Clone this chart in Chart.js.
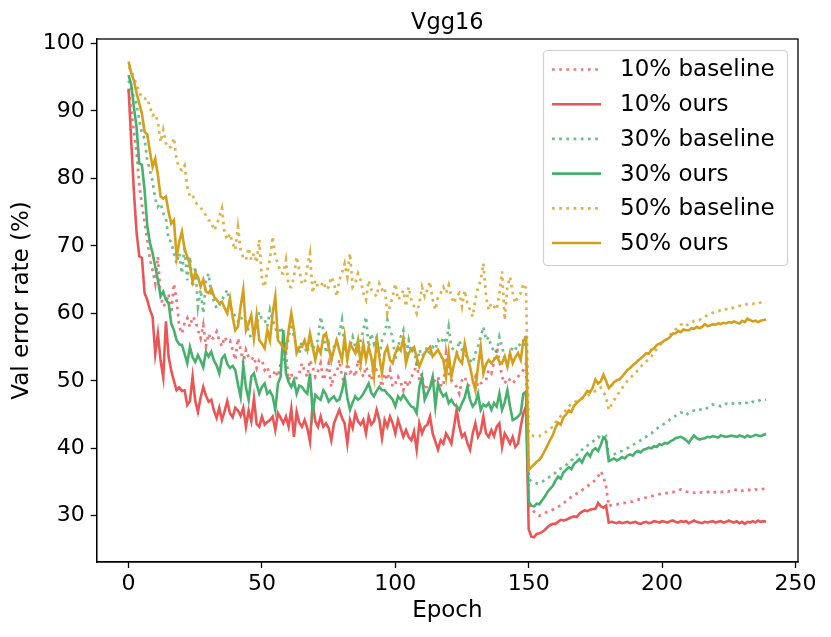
<!DOCTYPE html>
<html>
<head>
<meta charset="utf-8">
<title>Vgg16</title>
<script src="https://cdn.jsdelivr.net/npm/chart.js@4.4.1/dist/chart.umd.min.js"></script>
<style>
  html, body { margin: 0; padding: 0; background: #fff; }
  #caixa { width: 831px; height: 637px; }
</style>
</head>
<body>
<div id="caixa"><canvas id="grafico"></canvas></div>
<script>
// epocas 0..239 (eixo x)
const epocas = Array.from({ length: 240 }, function(_, i) { return i })
const ticksX = [0, 50, 100, 150, 200, 250]
const ticksY = [30, 40, 50, 60, 70, 80, 90, 100]

// valores, 10 por linha
const base10 = [
  93.1, 90.0, 87.0, 84.0, 79.0, 76.0, 73.5, 71.0, 68.0, 66.4,
  64.4, 68.4, 62.5, 61.0, 61.5, 62.9, 60.0, 64.4, 61.9, 58.0,
  57.0, 58.5, 59.3, 58.0, 59.5, 59.0, 57.5, 56.3, 58.3, 55.1,
  57.0, 56.0, 56.5, 57.3, 56.0, 55.1, 56.5, 55.8, 56.0, 54.6,
  53.1, 56.3, 54.6, 52.6, 54.6, 53.5, 53.1, 53.6, 51.9, 53.1,
  53.1, 51.6, 52.1, 50.6, 50.6, 51.6, 50.6, 52.6, 53.0, 54.1,
  50.1, 51.1, 49.6, 50.5, 51.1, 52.6, 51.4, 50.6, 53.1, 52.1,
  50.6, 51.5, 52.6, 50.1, 51.1, 52.6, 49.1, 50.8, 51.1, 53.1,
  50.6, 49.6, 52.6, 51.2, 51.6, 50.6, 53.1, 51.6, 50.6, 52.1,
  51.0, 50.1, 52.6, 51.4, 50.6, 49.1, 51.1, 50.1, 51.6, 49.1,
  49.6, 50.6, 49.8, 48.6, 50.1, 49.1, 50.6, 51.2, 52.6, 50.1,
  51.1, 48.1, 49.5, 49.1, 49.6, 50.1, 50.6, 49.4, 49.1, 54.1,
  51.1, 50.1, 49.6, 49.1, 48.1, 50.1, 50.6, 49.5, 49.1, 49.6,
  50.6, 49.1, 49.6, 49.9, 50.1, 51.6, 51.1, 52.8, 55.0, 53.1,
  50.6, 49.6, 50.4, 50.1, 49.6, 50.1, 50.6, 51.2, 51.6, 52.6,
  31.5, 31.2, 30.6, 30.3, 30.0, 30.2, 30.4, 30.6, 30.7, 30.9,
  31.1, 31.3, 31.6, 31.8, 32.2, 32.5, 32.8, 33.0, 33.3, 33.5,
  33.8, 34.1, 34.4, 34.7, 35.0, 35.3, 35.8, 36.6, 35.8, 34.4,
  31.4, 31.6, 31.7, 31.7, 31.8, 31.8, 31.9, 32.0, 32.1, 32.1,
  32.3, 32.4, 32.5, 32.6, 32.7, 32.8, 32.9, 33.0, 33.1, 33.2,
  33.3, 33.3, 33.4, 33.5, 33.5, 33.6, 33.7, 33.9, 33.8, 33.6,
  33.5, 33.5, 33.4, 33.5, 33.4, 33.5, 33.4, 33.5, 33.6, 33.4,
  33.5, 33.6, 33.5, 33.6, 33.7, 33.6, 33.7, 33.9, 33.8, 33.6,
  33.7, 33.8, 33.9, 33.8, 33.7, 33.9, 33.8, 33.9, 34.0, 33.9
]

const nosso10 = [
  93.3, 85.5, 78.0, 72.0, 68.5, 68.2, 63.0, 62.0, 60.5, 59.5,
  54.0, 57.0, 53.0, 50.5, 58.8, 53.6, 51.5, 50.0, 48.6, 49.0,
  48.5, 48.6, 46.4, 47.0, 50.6, 47.0, 45.4, 47.5, 49.1, 47.8,
  46.9, 47.2, 45.6, 44.5, 46.0, 44.2, 45.5, 47.0, 45.2, 44.6,
  46.0, 45.6, 44.8, 46.0, 43.2, 45.6, 44.0, 47.4, 43.6, 43.2,
  44.7, 43.5, 43.9, 44.2, 44.7, 42.7, 45.2, 44.5, 43.7, 44.7,
  43.2, 45.9, 41.7, 45.4, 43.8, 43.2, 44.2, 43.0, 41.0, 46.7,
  44.0, 43.2, 44.7, 43.2, 43.7, 43.0, 41.2, 43.7, 44.7, 45.7,
  44.5, 43.7, 40.7, 44.2, 43.0, 45.2, 44.0, 43.5, 44.2, 42.2,
  44.7, 43.5, 44.0, 45.7, 44.2, 41.5, 44.2, 43.2, 44.7, 43.7,
  42.2, 44.2, 43.0, 41.7, 42.7, 41.7, 41.2, 42.5, 39.8, 43.7,
  42.2, 43.2, 43.5, 44.7, 42.2, 41.0, 39.8, 41.2, 40.7, 42.2,
  41.5, 40.7, 43.2, 45.7, 43.2, 41.7, 42.2, 40.8, 39.8, 42.2,
  43.7, 41.7, 42.5, 44.7, 42.2, 41.7, 42.7, 41.8, 43.2, 43.7,
  40.2, 42.2, 41.5, 40.7, 41.7, 40.2, 40.7, 43.2, 45.2, 46.2,
  28.0, 26.9, 26.8, 27.3, 27.4, 27.6, 27.9, 28.3, 28.6, 28.8,
  28.8, 29.1, 29.4, 29.3, 29.4, 29.6, 29.8, 29.9, 29.8, 30.3,
  30.6, 30.8, 30.7, 30.9, 31.0, 31.0, 31.9, 31.4, 31.2, 31.5,
  29.0, 29.1, 29.0, 28.9, 29.1, 28.9, 29.0, 29.1, 28.9, 29.0,
  29.1, 28.9, 28.8, 29.0, 29.1, 28.9, 29.0, 29.2, 29.1, 29.0,
  29.2, 29.1, 29.0, 29.2, 29.3, 29.1, 29.0, 29.2, 29.1, 29.2,
  28.9, 29.1, 29.3, 29.1, 29.0, 28.9, 29.1, 29.0, 29.1, 29.2,
  29.0, 29.1, 29.2, 29.0, 29.1, 29.3, 29.1, 29.0, 29.2, 28.9,
  29.1, 28.8, 29.1, 29.0, 29.2, 29.0, 29.3, 29.1, 29.2, 29.1
]

const base30 = [
  94.5, 93.2, 92.0, 91.1, 88.6, 86.7, 85.9, 82.7, 81.2, 79.5,
  76.9, 75.8, 76.3, 74.8, 74.1, 70.9, 70.6, 68.9, 67.4, 68.9,
  65.9, 69.9, 64.9, 68.4, 63.9, 66.9, 61.0, 63.5, 60.0, 64.9,
  65.9, 62.9, 61.8, 60.7, 61.2, 62.0, 62.7, 63.5, 61.0, 60.2,
  59.5, 58.8, 59.5, 58.8, 58.8, 57.3, 56.3, 56.8, 58.0, 60.2,
  59.0, 59.0, 58.0, 60.5, 59.0, 58.0, 56.5, 58.0, 57.0, 54.1,
  56.5, 58.5, 56.5, 55.0, 54.1, 56.0, 55.0, 54.1, 56.5, 54.6,
  55.5, 56.0, 59.5, 57.5, 54.1, 55.5, 53.1, 55.0, 56.0, 57.0,
  59.0, 55.0, 53.6, 55.0, 56.5, 55.0, 54.1, 56.0, 57.5, 59.5,
  55.0, 57.0, 55.5, 56.5, 53.6, 56.0, 57.0, 59.0, 57.5, 56.5,
  53.1, 55.0, 56.5, 57.5, 53.6, 56.0, 54.1, 55.0, 52.1, 54.6,
  53.6, 54.1, 55.0, 53.6, 55.0, 54.6, 56.0, 55.5, 56.5, 55.5,
  58.0, 55.0, 54.5, 54.1, 56.0, 54.6, 54.1, 53.4, 53.1, 52.6,
  54.1, 55.0, 56.5, 58.0, 56.0, 56.5, 55.0, 54.5, 54.1, 56.5,
  55.0, 53.4, 52.6, 54.1, 55.0, 54.6, 55.5, 55.2, 55.0, 57.0,
  35.5, 35.1, 34.9, 34.8, 34.8, 35.0, 35.3, 35.6, 35.8, 36.0,
  36.4, 36.8, 37.0, 37.3, 37.5, 37.8, 38.2, 38.6, 39.0, 39.3,
  39.8, 40.2, 40.4, 40.8, 41.0, 41.3, 41.7, 41.6, 41.5, 41.8,
  38.7, 38.9, 39.1, 39.3, 39.5, 39.6, 39.8, 40.0, 40.3, 40.5,
  40.7, 40.9, 41.2, 41.5, 41.7, 42.0, 42.2, 42.6, 42.9, 43.2,
  43.4, 43.7, 43.9, 44.3, 44.6, 44.8, 45.0, 45.3, 45.2, 44.9,
  45.3, 45.5, 45.6, 45.5, 45.7, 45.8, 45.7, 46.0, 46.3, 46.5,
  46.4, 46.4, 46.2, 46.5, 46.6, 46.5, 46.7, 46.6, 46.5, 46.7,
  46.6, 46.8, 46.7, 46.6, 46.9, 46.8, 47.0, 47.2, 47.1, 47.2
]

const nosso30 = [
  95.3, 93.9, 90.5, 87.6, 82.2, 82.0, 78.3, 73.0, 70.5, 68.9,
  66.9, 64.9, 62.5, 63.2, 62.0, 61.5, 58.5, 57.5, 56.0, 55.4,
  55.3, 54.0, 52.6, 55.0, 53.5, 52.8, 53.8, 53.0, 52.0, 54.3,
  53.6, 54.3, 53.0, 52.3, 51.1, 53.3, 53.8, 52.5, 51.9, 52.2,
  51.6, 49.5, 47.6, 52.3, 49.0, 47.2, 50.6, 51.1, 49.5, 48.1,
  49.1, 49.6, 48.1, 48.5, 47.7, 45.7, 49.6, 50.6, 57.5, 51.1,
  49.8, 49.1, 50.1, 48.1, 49.3, 49.1, 48.5, 48.1, 51.1, 45.2,
  47.9, 47.5, 47.2, 48.6, 48.0, 46.9, 47.4, 47.7, 47.0, 47.2,
  48.5, 50.4, 47.5, 45.7, 46.8, 47.7, 47.2, 47.5, 48.1, 48.8,
  49.6, 48.2, 47.7, 48.5, 49.1, 48.6, 48.6, 48.1, 47.7, 47.2,
  46.2, 47.7, 47.2, 47.9, 47.3, 46.7, 46.2, 46.0, 45.2, 49.1,
  50.6, 47.2, 48.1, 49.0, 50.6, 46.2, 49.6, 48.4, 47.7, 48.1,
  46.7, 47.2, 46.5, 46.2, 45.7, 46.7, 47.5, 49.1, 47.2, 46.2,
  46.7, 48.1, 45.7, 46.5, 46.2, 46.7, 45.7, 46.7, 46.2, 48.1,
  45.7, 46.8, 48.6, 46.2, 44.2, 44.4, 44.7, 45.2, 48.1, 48.4,
  32.1, 31.5, 31.4, 31.8, 31.7, 32.3, 32.8, 33.5, 34.0, 34.4,
  35.2, 35.8, 35.5, 36.4, 36.8, 37.2, 36.9, 37.7, 38.0, 38.4,
  37.9, 38.8, 39.3, 38.8, 39.7, 40.0, 39.6, 40.5, 41.6, 41.2,
  38.1, 38.3, 38.5, 38.2, 38.4, 38.7, 38.5, 38.9, 39.1, 38.9,
  39.4, 39.6, 39.4, 39.8, 39.9, 40.1, 40.0, 40.3, 40.2, 40.6,
  40.5, 40.8, 40.7, 41.0, 41.2, 41.5, 41.6, 41.7, 41.5, 41.2,
  40.8, 41.4, 41.9, 41.5, 41.3, 41.4, 41.5, 41.7, 41.6, 41.8,
  41.7, 41.6, 41.9, 41.8, 41.7, 41.8, 41.9, 41.8, 41.7, 41.9,
  41.8, 41.6, 41.9, 41.7, 41.8, 42.0, 41.9, 41.8, 42.0, 42.1
]

const base50 = [
  96.5, 96.0, 95.0, 93.8, 92.8, 91.9, 91.8, 91.9, 90.6, 89.3,
  89.6, 88.3, 85.4, 87.2, 85.2, 84.5, 84.7, 86.0, 82.7, 81.5,
  81.2, 81.9, 78.8, 77.3, 77.5, 76.5, 76.0, 75.6, 75.3, 74.5,
  73.8, 73.6, 72.3, 73.0, 74.3, 75.6, 71.8, 70.9, 71.8, 70.4,
  69.4, 72.8, 69.4, 68.2, 67.9, 69.7, 67.9, 68.9, 67.5, 70.9,
  64.9, 63.9, 66.4, 68.0, 71.4, 68.4, 67.4, 66.0, 65.9, 67.9,
  64.0, 63.9, 65.4, 68.4, 66.4, 64.4, 64.4, 66.9, 68.9, 63.0,
  64.9, 63.9, 64.0, 64.7, 63.5, 63.9, 65.4, 64.5, 62.5, 64.9,
  66.0, 67.4, 65.4, 68.9, 63.9, 64.5, 65.9, 64.9, 63.0, 62.0,
  64.9, 63.5, 63.0, 62.5, 64.4, 63.5, 63.9, 60.0, 61.0, 62.5,
  64.4, 62.0, 62.5, 63.4, 61.0, 63.9, 62.0, 61.0, 60.0, 61.5,
  63.9, 62.5, 63.5, 64.7, 62.0, 60.5, 62.5, 63.0, 63.9, 63.0,
  64.2, 62.5, 61.5, 62.5, 63.0, 61.0, 63.4, 61.5, 60.5, 59.5,
  62.0, 63.9, 64.8, 67.4, 62.5, 60.5, 61.5, 61.0, 60.5, 63.0,
  66.2, 59.0, 63.9, 65.4, 63.0, 61.5, 62.5, 63.0, 64.4, 63.7,
  42.2, 42.0, 41.8, 41.7, 41.8, 42.1, 42.3, 42.6, 42.9, 43.2,
  43.8, 44.2, 44.8, 45.2, 45.7, 46.2, 46.6, 46.8, 47.0, 47.2,
  47.4, 47.6, 47.8, 48.0, 48.3, 48.5, 48.7, 49.0, 48.3, 47.6,
  45.7, 46.4, 47.1, 47.8, 48.3, 48.9, 49.5, 50.0, 50.4, 50.8,
  51.2, 51.6, 52.1, 52.5, 52.9, 53.1, 53.6, 54.2, 54.7, 55.2,
  55.6, 55.9, 56.3, 56.8, 57.2, 57.6, 57.9, 58.3, 58.4, 58.1,
  58.5, 58.6, 58.9, 59.0, 59.0, 59.3, 59.5, 59.7, 59.9, 60.1,
  60.2, 60.3, 60.5, 60.4, 60.6, 60.8, 60.7, 60.9, 61.0, 61.1,
  61.2, 61.2, 61.4, 61.5, 61.4, 61.6, 61.5, 61.6, 61.7, 61.6
]

const nosso50 = [
  97.3, 95.6, 94.5, 92.6, 91.1, 89.6, 86.9, 86.5, 84.0, 81.7,
  82.9, 80.5, 77.3, 77.0, 77.3, 75.0, 73.3, 73.8, 68.4, 70.6,
  72.1, 69.5, 68.4, 67.2, 64.7, 66.0, 65.4, 64.0, 65.0, 63.2,
  63.0, 63.7, 62.5, 62.0, 61.5, 61.7, 60.8, 60.0, 62.2, 59.5,
  57.5, 58.0, 61.0, 63.5, 57.5, 58.5, 59.7, 56.3, 59.7, 56.0,
  55.5, 54.8, 57.5, 56.0, 60.0, 62.5, 56.0, 55.5, 54.8, 54.6,
  57.5, 60.0, 57.5, 54.1, 55.0, 55.0, 56.0, 54.6, 57.0, 55.0,
  53.1, 55.0, 54.1, 56.5, 57.0, 55.0, 53.1, 54.6, 56.0, 54.5,
  53.1, 56.5, 53.1, 55.5, 54.8, 54.1, 56.0, 52.6, 55.5, 53.1,
  55.0, 53.5, 50.6, 56.5, 53.5, 51.1, 54.1, 55.0, 53.1, 52.6,
  54.1, 55.0, 54.5, 56.3, 52.6, 54.1, 54.6, 55.0, 53.5, 52.1,
  53.1, 54.1, 54.6, 55.0, 53.6, 54.1, 54.6, 53.8, 53.1, 50.6,
  54.1, 50.6, 52.5, 54.1, 53.1, 52.6, 55.5, 53.5, 52.1, 50.1,
  48.6, 52.1, 55.0, 51.1, 52.5, 53.1, 52.6, 53.1, 53.6, 52.8,
  52.6, 53.6, 52.1, 54.1, 52.6, 53.5, 54.1, 53.1, 56.0, 56.3,
  36.8, 37.2, 37.6, 38.0, 38.3, 38.9, 39.6, 40.4, 41.2, 41.9,
  43.0, 43.8, 43.5, 44.6, 45.0, 45.6, 45.4, 46.3, 46.7, 47.1,
  47.4, 47.9, 48.5, 48.3, 49.0, 50.2, 49.6, 49.9, 50.9, 50.0,
  48.9, 49.3, 49.8, 50.1, 50.2, 50.6, 51.1, 51.6, 51.9, 52.3,
  52.6, 53.0, 53.3, 53.7, 54.1, 54.0, 54.6, 54.8, 55.3, 55.5,
  55.7, 56.0, 56.2, 56.5, 57.0, 57.0, 57.4, 57.2, 57.6, 57.5,
  57.5, 57.8, 57.7, 58.0, 57.8, 58.0, 58.4, 58.1, 58.2, 58.4,
  58.3, 58.5, 58.4, 58.6, 58.5, 58.7, 58.6, 58.8, 58.6, 58.5,
  58.9, 58.7, 59.2, 59.0, 58.8, 58.9, 58.7, 58.9, 59.0, 59.1
]

const vermelho = '#eb5555'
const verde = '#46b06c'
const dourado = '#d4a01c'

Chart.defaults.font.family = "'DejaVu Sans', sans-serif"
Chart.defaults.font.size = 22
Chart.defaults.color = '#000'

function serie(nome, valores, cor, pontilhado, ordem) {
  return {
    label: nome,
    data: valores,
    borderColor: pontilhado ? cor + 'cc' : cor,
    borderWidth: pontilhado ? 2.7 : 2.6,
    borderDash: pontilhado ? [2.7, 4.5] : [],
    borderCapStyle: 'butt',
    pointRadius: 0,
    fill: false,
    tension: 0,
    order: ordem
  }
}

// titulo centrado sobre a area do grafico e moldura em volta
const moldura = {
  id: 'moldura',
  afterDatasetsDraw(chart) {
    const a = chart.chartArea
    const ctx = chart.ctx
    ctx.save()
    ctx.strokeStyle = '#000'
    ctx.lineWidth = 1.3
    ctx.strokeRect(a.left, a.top, a.right - a.left, a.bottom - a.top)
    ctx.fillStyle = '#000'
    ctx.font = "22.5px 'DejaVu Sans'"
    ctx.textAlign = 'center'
    ctx.textBaseline = 'alphabetic'
    ctx.fillText('Vgg16', (a.left + a.right) / 2, 28.5)
    ctx.restore()
  }
}

// legenda no canto superior direito, estilo matplotlib
const legenda = {
  id: 'legenda',
  afterDraw(chart) {
    const ctx = chart.ctx
    ctx.save()
    ctx.beginPath()
    ctx.roundRect(543.5, 50.5, 244, 215, 4)
    ctx.fillStyle = 'rgba(255,255,255,0.85)'
    ctx.fill()
    ctx.strokeStyle = '#d0d0d0'
    ctx.lineWidth = 1.2
    ctx.stroke()
    ctx.font = "23px 'DejaVu Sans'"
    ctx.textBaseline = 'middle'
    ctx.fillStyle = '#000'
    chart.data.datasets.forEach(function(ds, i) {
      const y = 69.5 + i * 34.7
      ctx.strokeStyle = ds.borderColor
      ctx.lineWidth = ds.borderWidth
      ctx.setLineDash(ds.borderDash)
      ctx.beginPath()
      ctx.moveTo(552, y)
      ctx.lineTo(601, y)
      ctx.stroke()
      ctx.setLineDash([])
      ctx.fillText(ds.label, 620, y + 1)
    })
    ctx.restore()
  }
}

new Chart(document.getElementById('grafico'), {
  type: 'line',
  data: {
    labels: epocas,
    datasets: [
      serie('10% baseline', base10, vermelho, true, 5),
      serie('10% ours', nosso10, vermelho, false, 4),
      serie('30% baseline', base30, verde, true, 3),
      serie('30% ours', nosso30, verde, false, 2),
      serie('50% baseline', base50, dourado, true, 1),
      serie('50% ours', nosso50, dourado, false, 0)
    ]
  },
  options: {
    responsive: true,
    maintainAspectRatio: false,
    animation: false,
    layout: { padding: { left: 0, right: 33, top: 39, bottom: 0 } },
    plugins: {
      legend: { display: false },
      tooltip: { enabled: false },
      title: { display: false }
    },
    scales: {
      x: {
        type: 'linear',
        min: -11.95,
        max: 250.95,
        afterBuildTicks: function(s) { s.ticks = ticksX.map(function(v) { return { value: v } }) },
        afterFit: function(s) { s.height = 75 },
        grid: { drawOnChartArea: false, drawTicks: true, tickLength: 6, tickColor: '#000', tickWidth: 1.3 },
        border: { display: true, color: '#000', width: 1.3 },
        ticks: { color: '#000', padding: 3, maxRotation: 0, autoSkip: false },
        title: { display: true, text: 'Epoch', color: '#000', font: { size: 23 }, padding: { top: 0, bottom: 12.3 } }
      },
      y: {
        min: 23.15,
        max: 100.65,
        afterBuildTicks: function(s) { s.ticks = ticksY.map(function(v) { return { value: v } }) },
        afterFit: function(s) { s.width = 96.7 },
        grid: { drawOnChartArea: false, drawTicks: true, tickLength: 6, tickColor: '#000', tickWidth: 1.3 },
        border: { display: true, color: '#000', width: 1.3 },
        ticks: { color: '#000', padding: 6, autoSkip: false },
        title: { display: true, text: 'Val error rate (%)', color: '#000', font: { size: 23 }, padding: { top: 8.5, bottom: 0 } }
      }
    }
  },
  plugins: [moldura, legenda]
})
</script>
</body>
</html>
